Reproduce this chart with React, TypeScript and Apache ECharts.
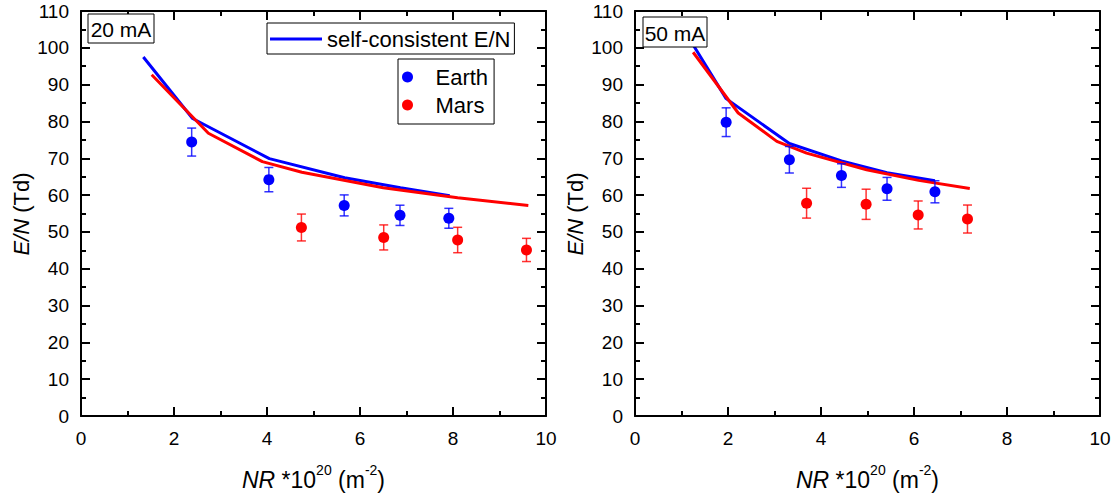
import React, { useEffect, useRef } from "react";
import * as echarts from "echarts";

// ---------- data: 20 mA panel ----------
const sim20EarthX = [1.34, 2.4, 4.05, 5.67, 6.87, 7.93];
const sim20EarthY = [97.5, 80.8, 69.9, 64.7, 62.0, 59.8];
const sim20MarsX = [1.52, 2.74, 3.9, 4.75, 6.5, 8.1, 9.62];
const sim20MarsY = [92.7, 76.8, 69.1, 66.2, 62.0, 59.3, 57.2];
const exp20EarthX = [2.38, 4.04, 5.66, 6.86, 7.91];
const exp20EarthY = [74.4, 64.2, 57.2, 54.5, 53.7];
const exp20EarthErr = [3.8, 3.3, 2.85, 2.75, 2.7];
const exp20MarsX = [4.74, 6.51, 8.1, 9.58];
const exp20MarsY = [51.2, 48.5, 47.8, 45.1];
const exp20MarsErr = [3.65, 3.4, 3.45, 3.15];

// ---------- data: 50 mA panel ----------
const sim50EarthX = [1.12, 1.96, 3.32, 4.44, 5.42, 6.45];
const sim50EarthY = [103.5, 86.2, 74.0, 69.3, 66.1, 63.9];
const sim50MarsX = [1.25, 2.22, 3.05, 3.69, 4.98, 6.1, 7.2];
const sim50MarsY = [98.8, 82.3, 74.6, 71.4, 66.9, 64.0, 61.8];
const exp50EarthX = [1.96, 3.32, 4.44, 5.42, 6.45];
const exp50EarthY = [79.8, 69.6, 65.3, 61.7, 60.9];
const exp50EarthErr = [3.9, 3.6, 3.2, 3.1, 3.0];
const exp50MarsX = [3.69, 4.97, 6.09, 7.15];
const exp50MarsY = [57.8, 57.5, 54.6, 53.5];
const exp50MarsErr = [4.05, 4.1, 3.8, 3.8];

const panelLabels = ["20 mA", "50 mA"];
const xMin = 0, xMax = 10, xStep = 2;
const yMin = 0, yMax = 110, yStep = 10;

const BLUE = "#0000ff";
const RED = "#ff0000";
const FONT = "'Liberation Sans', Arial, Helvetica, sans-serif";

const zip = (xs: number[], ys: number[]) => xs.map((x, i) => [x, ys[i]]);

function axisBase(extra: any) {
  return {
    type: "value",
    axisLine: { show: true, onZero: false, lineStyle: { color: "#000", width: 2 } },
    axisTick: { show: true, inside: true, length: 9, lineStyle: { color: "#000", width: 2 } },
    minorTick: { show: true, splitNumber: 2, length: 5, lineStyle: { color: "#000", width: 2 } },
    splitLine: { show: false },
    minorSplitLine: { show: false },
    ...extra,
  };
}

function xAxes(gridIndex: number) {
  const common = { gridIndex, min: xMin, max: xMax, interval: xStep };
  return [
    axisBase({
      ...common,
      position: "bottom",
      axisLabel: { show: true, color: "#000", fontSize: 19, fontFamily: FONT, margin: 13 },
    }),
    axisBase({ ...common, position: "top", axisLabel: { show: false } }),
  ];
}

function yAxes(gridIndex: number) {
  const common = { gridIndex, min: yMin, max: yMax, interval: yStep };
  return [
    axisBase({
      ...common,
      position: "left",
      axisLabel: { show: true, color: "#000", fontSize: 19, fontFamily: FONT, margin: 12 },
    }),
    axisBase({ ...common, position: "right", axisLabel: { show: false } }),
  ];
}

function errSeries(name: string, xs: number[], ys: number[], es: number[], color: string, axisIdx: number) {
  return {
    name,
    type: "custom",
    xAxisIndex: axisIdx,
    yAxisIndex: axisIdx,
    silent: true,
    z: 3,
    data: xs.map((x, i) => [x, ys[i], es[i]]),
    encode: { x: 0, y: 1 },
    renderItem: (params: any, api: any) => {
      const x = api.value(0);
      const y = api.value(1);
      const e = api.value(2);
      const top = api.coord([x, y + e]);
      const bot = api.coord([x, y - e]);
      const hw = 4.5;
      const style = { stroke: color, lineWidth: 1.5, opacity: 0.8 };
      return {
        type: "group",
        children: [
          { type: "line", shape: { x1: top[0], y1: top[1], x2: bot[0], y2: bot[1] }, style },
          { type: "line", shape: { x1: top[0] - hw, y1: top[1], x2: top[0] + hw, y2: top[1] }, style },
          { type: "line", shape: { x1: bot[0] - hw, y1: bot[1], x2: bot[0] + hw, y2: bot[1] }, style },
        ],
      };
    },
  };
}

function lineSeries(name: string, xs: number[], ys: number[], color: string, axisIdx: number) {
  return {
    name,
    type: "line",
    xAxisIndex: axisIdx,
    yAxisIndex: axisIdx,
    data: zip(xs, ys),
    symbol: "none",
    showSymbol: false,
    smooth: false,
    z: 2,
    lineStyle: { color, width: 3 },
    itemStyle: { color },
  };
}

function scatterSeries(name: string, xs: number[], ys: number[], color: string, axisIdx: number) {
  return {
    name,
    type: "scatter",
    xAxisIndex: axisIdx,
    yAxisIndex: axisIdx,
    data: zip(xs, ys),
    symbol: "circle",
    symbolSize: 11,
    z: 4,
    itemStyle: { color, opacity: 1 },
  };
}

function labelBox(text: string, x: number, y: number, w: number, h: number) {
  return {
    type: "group",
    x,
    y,
    z: 100,
    children: [
      { type: "rect", shape: { x: 0, y: 0, width: w, height: h }, style: { fill: "#fff", stroke: "#000", lineWidth: 1 }, z: 100 },
      {
        type: "text",
        x: w / 2,
        y: h / 2 + 1,
        z: 101,
        style: { text, fontSize: 21, fontFamily: FONT, fill: "#000", align: "center", verticalAlign: "middle", textAlign: "center", textVerticalAlign: "middle" },
      },
    ],
  };
}

function xTitle(cx: number) {
  return {
    type: "text",
    x: cx,
    y: 477,
    z: 100,
    style: {
      text: "{i|NR}{n| *10}{s|20}{n| (m}{s|-2}{n|)}",
      fontSize: 23,
      fontFamily: FONT,
      fill: "#000",
      align: "center",
      verticalAlign: "middle",
      textAlign: "center",
      textVerticalAlign: "middle",
      rich: {
        i: { fontSize: 23, fontStyle: "italic", fontFamily: FONT, fill: "#000", lineHeight: 28, verticalAlign: "bottom" },
        n: { fontSize: 23, fontFamily: FONT, fill: "#000", lineHeight: 28, verticalAlign: "bottom" },
        s: { fontSize: 14, fontFamily: FONT, fill: "#000", lineHeight: 28, verticalAlign: "top" },
      },
    },
  };
}

function yTitle(cx: number) {
  return {
    type: "text",
    x: cx,
    y: 214,
    rotation: Math.PI / 2,
    z: 100,
    style: {
      text: "{i|E/N}{n| (Td)}",
      fontSize: 22,
      fontFamily: FONT,
      fill: "#000",
      align: "center",
      verticalAlign: "middle",
      textAlign: "center",
      textVerticalAlign: "middle",
      rich: {
        i: { fontSize: 22, fontStyle: "italic", fontFamily: FONT, fill: "#000" },
        n: { fontSize: 22, fontFamily: FONT, fill: "#000" },
      },
    },
  };
}

export default function App() {
  const ref = useRef<HTMLDivElement>(null);
  useEffect(() => {
    if (!ref.current) return;
    const chart = echarts.init(ref.current, undefined, { renderer: "svg" });
    const option: any = {
      animation: false,
      backgroundColor: "#fff",
      textStyle: { fontFamily: FONT },
      grid: [
        { left: 81, right: 1114 - 546, top: 11, bottom: 493 - 416, containLabel: false },
        { left: 635, right: 1114 - 1100, top: 11, bottom: 493 - 416, containLabel: false },
      ],
      xAxis: [...xAxes(0), ...xAxes(1)],
      yAxis: [...yAxes(0), ...yAxes(1)],
      legend: [
        {
          data: [{ name: "self-consistent E/N", icon: "rect" }],
          left: 267,
          top: 23,
          orient: "horizontal",
          padding: [5, 4, 4, 3],
          itemWidth: 52,
          itemHeight: 3,
          borderColor: "#000",
          borderWidth: 1,
          borderRadius: 0,
          backgroundColor: "#fff",
          selectedMode: false,
          textStyle: { fontSize: 22, color: "#000", fontFamily: FONT },
        },
        {
          data: ["Earth", "Mars"],
          left: 398,
          top: 59,
          orient: "vertical",
          itemGap: 6,
          padding: [7, 6, 8, 4],
          itemWidth: 46,
          itemHeight: 11,
          borderColor: "#000",
          borderWidth: 1,
          borderRadius: 0,
          backgroundColor: "#fff",
          selectedMode: false,
          textStyle: { fontSize: 22, color: "#000", fontFamily: FONT },
        },
      ],
      series: [
        lineSeries("self-consistent E/N", sim20EarthX, sim20EarthY, BLUE, 0),
        lineSeries("self-consistent E/N (Mars)", sim20MarsX, sim20MarsY, RED, 0),
        errSeries("Earth error 20", exp20EarthX, exp20EarthY, exp20EarthErr, BLUE, 0),
        errSeries("Mars error 20", exp20MarsX, exp20MarsY, exp20MarsErr, RED, 0),
        scatterSeries("Earth", exp20EarthX, exp20EarthY, BLUE, 0),
        scatterSeries("Mars", exp20MarsX, exp20MarsY, RED, 0),

        lineSeries("self-consistent E/N", sim50EarthX, sim50EarthY, BLUE, 2),
        lineSeries("self-consistent E/N (Mars)", sim50MarsX, sim50MarsY, RED, 2),
        errSeries("Earth error 50", exp50EarthX, exp50EarthY, exp50EarthErr, BLUE, 2),
        errSeries("Mars error 50", exp50MarsX, exp50MarsY, exp50MarsErr, RED, 2),
        scatterSeries("Earth", exp50EarthX, exp50EarthY, BLUE, 2),
        scatterSeries("Mars", exp50MarsX, exp50MarsY, RED, 2),
      ],
      graphic: [
        labelBox(panelLabels[0], 88, 14, 66, 29),
        labelBox(panelLabels[1], 643, 17, 64, 30),
        xTitle(313.5),
        xTitle(867.5),
        yTitle(21),
        yTitle(575),
      ],
    };
    chart.setOption(option);
    return () => chart.dispose();
  }, []);
  return (
    <div
      ref={ref}
      style={{ position: "absolute", left: 0, top: 0, width: 1114, height: 493, background: "#fff" }}
    />
  );
}
